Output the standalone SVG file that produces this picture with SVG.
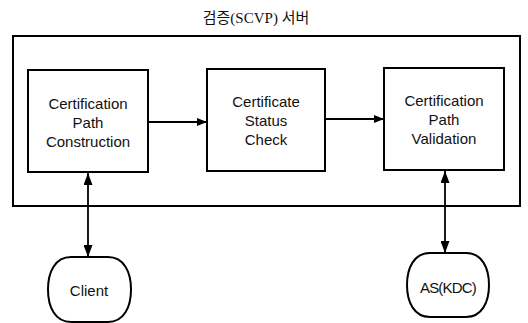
<svg xmlns="http://www.w3.org/2000/svg" width="528" height="323" viewBox="0 0 528 323">
<style>
.box{fill:#fff;stroke:#000;stroke-width:2}
.lbl{font-family:"Liberation Sans",Arial,sans-serif;font-size:15px;fill:#111;text-anchor:middle}
.title{font-family:"Liberation Serif","Noto Sans CJK KR",serif;font-size:15px;fill:#111;text-anchor:middle}
.conn{stroke:#000;stroke-width:1.8;fill:none}
</style>
<defs>
<marker id="ah" viewBox="0 0 10 8" refX="10" refY="4" markerWidth="10" markerHeight="8" markerUnits="userSpaceOnUse" orient="auto-start-reverse">
<path d="M0,0 L10,4 L0,8 Z" fill="#000"/>
</marker>
<marker id="av" viewBox="0 0 12 9" refX="12" refY="4.5" markerWidth="12" markerHeight="9" markerUnits="userSpaceOnUse" orient="auto-start-reverse">
<path d="M0,0 L12,4.5 L0,9 Z" fill="#000"/>
</marker>
</defs>
<text class="title" x="256" y="23">검증(SCVP) 서버</text>
<g id="server">
<rect class="box" x="13" y="36" width="507" height="170"/>
</g>
<g id="construction">
<rect class="box" x="28" y="70" width="120" height="102"/>
<text class="lbl" x="88" y="109">Certification</text>
<text class="lbl" x="88" y="128">Path</text>
<text class="lbl" x="88" y="147">Construction</text>
</g>
<g id="status">
<rect class="box" x="207" y="69" width="118" height="102"/>
<text class="lbl" x="266" y="107">Certificate</text>
<text class="lbl" x="266" y="126">Status</text>
<text class="lbl" x="266" y="145">Check</text>
</g>
<g id="validation">
<rect class="box" x="384" y="68" width="120" height="102"/>
<text class="lbl" x="444" y="106">Certification</text>
<text class="lbl" x="444" y="125">Path</text>
<text class="lbl" x="444" y="144">Validation</text>
</g>
<g id="client">
<path class="box" d="M71,257 L108,257 C124,257 131,272 131,289.5 C131,307 124,322 108,322 L71,322 C55,322 48,307 48,289.5 C48,272 55,257 71,257 Z"/>
<text class="lbl" x="89" y="296">Client</text>
</g>
<g id="askdc">
<path class="box" d="M430,253 L466,253 C482,253 489,268 489,285 C489,302 482,317 466,317 L430,317 C414,317 407,302 407,285 C407,268 414,253 430,253 Z"/>
<text class="lbl" x="448" y="293" style="letter-spacing:-0.8px">AS(KDC)</text>
</g>
<g id="connectors">
<line class="conn" x1="148" y1="122" x2="207" y2="122" marker-end="url(#ah)"/>
<line class="conn" x1="325" y1="119" x2="384" y2="119" marker-end="url(#ah)"/>
<line class="conn" x1="88" y1="173" x2="88" y2="257" marker-start="url(#av)" marker-end="url(#av)"/>
<line class="conn" x1="445" y1="171" x2="445" y2="253" marker-start="url(#av)" marker-end="url(#av)"/>
</g>
</svg>
